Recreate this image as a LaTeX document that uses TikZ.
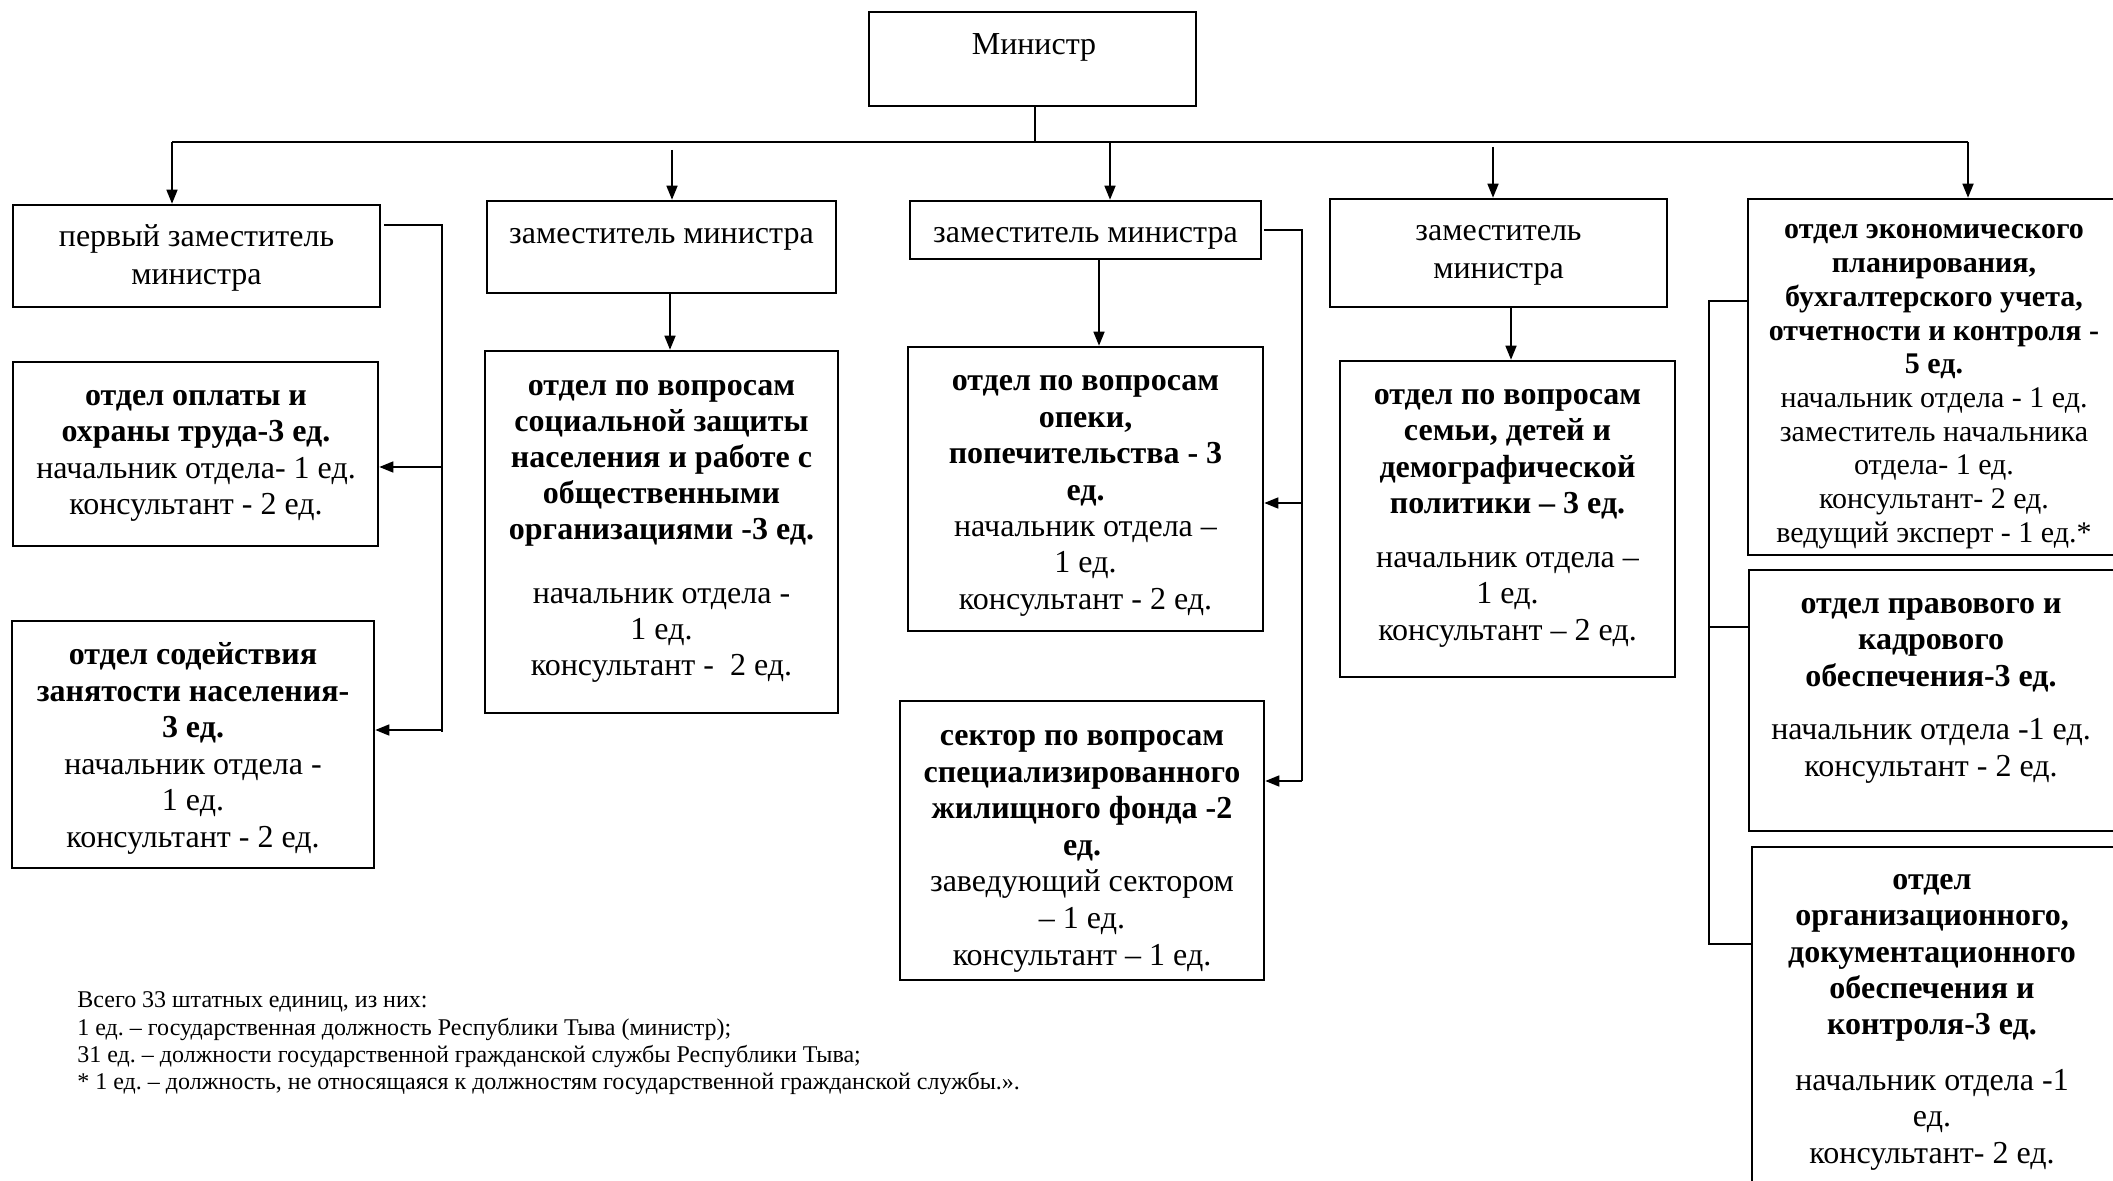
\documentclass[tikz,border=0pt]{standalone}
\usepackage{fontspec}
\setmainfont{Liberation Serif}
\usetikzlibrary{arrows.meta,fit}
\frenchspacing
\begin{document}
\begin{tikzpicture}[x=0.5pt,y=-0.5pt,
  box/.style={draw, line width=1.3pt, rectangle, inner sep=0pt},
  ln/.style={line width=0.8pt},
  arr/.style={ln, -{Triangle[length=7pt,width=5.5pt]}},
  txt/.style={inner sep=0pt, align=center, anchor=north},
  fa/.style={font=\fontsize{16}{19}\selectfont},
  fb/.style={font=\fontsize{16}{18.2}\selectfont},
  fc/.style={font=\fontsize{15}{16.85}\selectfont},
]
\useasboundingbox (0,0) rectangle (2113,1181);

% boxes
\node[box, fit={(869,12)(1196,106)}] (m) {};
\node[box, fit={(13,205)(380,307)}] (b1) {};
\node[box, fit={(487,201)(836,293)}] (b2) {};
\node[box, fit={(910,201)(1261,259)}] (b3) {};
\node[box, fit={(1330,199)(1667,307)}] (b4) {};
\node[box, fit={(1748,199)(2122,555)}] (b5) {};
\node[box, fit={(13,362)(378,546)}] (b1a) {};
\node[box, fit={(12,621)(374,868)}] (b1b) {};
\node[box, fit={(485,351)(838,713)}] (b2a) {};
\node[box, fit={(908,347)(1263,631)}] (b3a) {};
\node[box, fit={(900,701)(1264,980)}] (b3b) {};
\node[box, fit={(1340,361)(1675,677)}] (b4a) {};
\node[box, fit={(1749,570)(2122,831)}] (b6) {};
\node[box, fit={(1752,847)(2122,1200)}] (b7) {};

% texts
\node[txt, fa] (tm) at (1034,27.5) {\strut Министр};
\node[txt, fa] (tb1) at (196.5,219.5) {\strut первый заместитель\\министра};
\node[txt, fa] (tb2) at (661.5,217) {\strut заместитель министра};
\node[txt, fa] (tb3) at (1085.5,215.5) {\strut заместитель министра};
\node[txt, font=\fontsize{16}{18.9}\selectfont] (tb4) at (1498.5,214) {\strut заместитель\\министра};
\node[txt, fc] (tb5) at (1934,215) {\strut\textbf{отдел экономического}\\\textbf{планирования,}\\\textbf{бухгалтерского учета,}\\\textbf{отчетности и контроля -}\\\textbf{5 ед.}\\начальник отдела - 1 ед.\\заместитель начальника\\отдела- 1 ед.\\консультант- 2 ед.\\ведущий эксперт - 1 ед.*};
\node[txt, fb] (tb1a) at (196,379.5) {\strut\textbf{отдел оплаты и}\\\textbf{охраны труда-3 ед.}\\начальник отдела- 1 ед.\\консультант - 2 ед.};
\node[txt, font=\fontsize{16}{18.3}\selectfont] (tb1b) at (193,638.5) {\strut\textbf{отдел содействия}\\\textbf{занятости населения-}\\\textbf{3 ед.}\\начальник отдела -\\1 ед.\\консультант - 2 ед.};
\node[txt, font=\fontsize{16}{18}\selectfont] (tb2a) at (661.5,369.5) {\strut\textbf{отдел по вопросам}\\\textbf{социальной защиты}\\\textbf{населения и работе с}\\\textbf{общественными}\\\textbf{организациями -3 ед.}\\[14.3pt]начальник отдела -\\1 ед.\\консультант - \ 2 ед.};
\node[txt, fb] (tb3a) at (1085.5,365) {\strut\textbf{отдел по вопросам}\\\textbf{опеки,}\\\textbf{попечительства - 3}\\\textbf{ед.}\\начальник отдела –\\1 ед.\\консультант - 2 ед.};
\node[txt, font=\fontsize{16}{18.3}\selectfont] (tb3b) at (1082,719.5) {\strut\textbf{сектор по вопросам}\\\textbf{специализированного}\\\textbf{жилищного фонда -2}\\\textbf{ед.}\\заведующий сектором\\– 1 ед.\\консультант – 1 ед.};
\node[txt, fb] (tb4a) at (1507.5,378.5) {\strut\textbf{отдел по вопросам}\\\textbf{семьи, детей и}\\\textbf{демографической}\\\textbf{политики – 3 ед.}\\[8.7pt]начальник отдела –\\1 ед.\\консультант – 2 ед.};
\node[txt, fb] (tb6) at (1931,587.5) {\strut\textbf{отдел правового и}\\\textbf{кадрового}\\\textbf{обеспечения-3 ед.}\\[8.7pt]начальник отдела -1 ед.\\консультант - 2 ед.};
\node[txt, fb] (tb7) at (1932,863.5) {\strut\textbf{отдел}\\\textbf{организационного,}\\\textbf{документационного}\\\textbf{обеспечения и}\\\textbf{контроля-3 ед.}\\[9.5pt]начальник отдела -1\\ед.\\консультант- 2 ед.};

\node[anchor=north west, inner sep=0pt, align=left, font=\fontsize{12}{13.6}\selectfont] (note) at (77,988.5) {\strut Всего 33 штатных единиц, из них:\\1 ед. – государственная должность Республики Тыва (министр);\\31 ед. – должности государственной гражданской службы Республики Тыва;\\* 1 ед. – должность, не относящаяся к должностям государственной гражданской службы.».};

% top connectors
\coordinate (hL) at (172,142);
\coordinate (hR) at (1968,142);
\draw[ln] (m.south -| 1035,0) -- (hL -| 1035,0);
\draw[ln] (hL) -- (hR);
\draw[arr] (hL) -- (hL |- b1.north);
\coordinate (a2) at (672,150);
\draw[arr] (a2) -- (a2 |- b2.north);
\coordinate (a3) at (1110,142);
\draw[arr] (a3) -- (a3 |- b3.north);
\coordinate (a4) at (1493,147);
\draw[arr] (a4) -- (a4 |- b4.north);
\draw[arr] (hR) -- (hR |- b5.north);

% deputy to department
\coordinate (x2) at (670,0);
\draw[arr] (x2 |- b2.south) -- (x2 |- b2a.north);
\coordinate (x3) at (1099,0);
\draw[arr] (x3 |- b3.south) -- (x3 |- b3a.north);
\coordinate (x4) at (1511,0);
\draw[arr] (x4 |- b4.south) -- (x4 |- b4a.north);

% first deputy bracket
\coordinate (k1s) at (384,225);
\coordinate (k1) at (442,225);
\coordinate (k1e) at (442,732);
\draw[ln] (k1s) -- (k1) -- (k1e);
\coordinate (t1) at (442,467);
\draw[arr] (t1) -- (t1 -| b1a.east);
\coordinate (t2) at (442,730);
\draw[arr] (t2) -- (t2 -| b1b.east);

% deputy 2 bracket
\coordinate (k3s) at (1264,230);
\coordinate (k3) at (1302,230);
\coordinate (k3e) at (1302,781);
\draw[ln] (k3s) -- (k3) -- (k3e);
\coordinate (t3) at (1302,503);
\draw[arr] (t3) -- (t3 -| b3a.east);
\draw[arr] (k3e) -- (k3e -| b3b.east);

% right bracket
\coordinate (r1) at (1709,301);
\coordinate (r2) at (1709,627);
\coordinate (r3) at (1709,944);
\draw[ln] (r1 -| b5.west) -- (r1) -- (r3) -- (r3 -| b7.west);
\draw[ln] (r2) -- (r2 -| b6.west);
\end{tikzpicture}
\end{document}
